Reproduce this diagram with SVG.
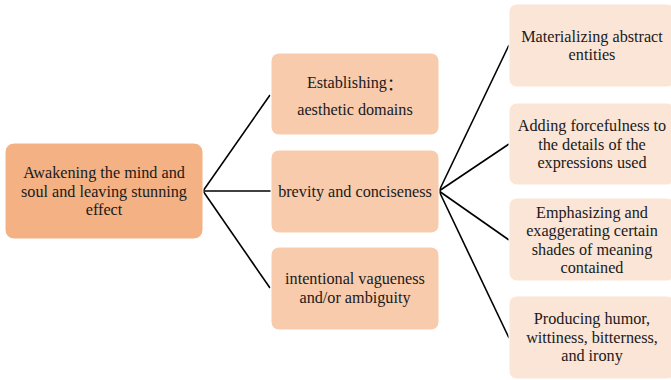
<svg xmlns="http://www.w3.org/2000/svg" width="671" height="380" viewBox="0 0 671 380">
<style>
.t{font-family:"Liberation Serif","Times New Roman",serif;font-size:16.2px;fill:#1a1a1a;text-anchor:middle;dominant-baseline:central}
.root{fill:#F4B183;stroke:#fff;stroke-width:1}
.mid{fill:#F8CBAD;stroke:#fff;stroke-width:1}
.leaf{fill:#FBE5D6;stroke:#fff;stroke-width:1}
.c{stroke:#000;stroke-width:1.6;fill:none}
</style>
<rect width="671" height="380" fill="#fff"/>
<g id="connectors">
<line class="c" x1="203" y1="191" x2="270" y2="95"/>
<line class="c" x1="203" y1="191" x2="271" y2="191"/>
<line class="c" x1="203" y1="191" x2="270" y2="288"/>
<line class="c" x1="439" y1="191" x2="509" y2="45"/>
<line class="c" x1="439" y1="191" x2="509" y2="144"/>
<line class="c" x1="439" y1="191" x2="509" y2="240"/>
<line class="c" x1="439" y1="191" x2="509" y2="338"/>
</g>
<g id="root">
<rect class="root" x="5" y="143" width="198" height="96" rx="9"/>
<text class="t" x="104" y="173">Awakening the mind and</text>
<text class="t" x="104" y="191.5">soul and leaving stunning</text>
<text class="t" x="104" y="210">effect</text>
</g>
<g id="mid1">
<rect class="mid" x="271" y="53" width="168" height="82" rx="8"/>
<text class="t" x="355" y="83">Establishing<tspan font-family="'Noto Sans CJK SC', sans-serif">：</tspan></text>
<text class="t" x="355" y="110">aesthetic domains</text>
</g>
<g id="mid2">
<rect class="mid" x="271" y="150" width="168" height="83" rx="8"/>
<text class="t" x="355" y="192">brevity and conciseness</text>
</g>
<g id="mid3">
<rect class="mid" x="271" y="247" width="168" height="83" rx="8"/>
<text class="t" x="355" y="279">intentional vagueness</text>
<text class="t" x="355" y="297.5">and/or ambiguity</text>
</g>
<g id="leaf1">
<rect class="leaf" x="509" y="4" width="166" height="83" rx="8"/>
<text class="t" x="592" y="36.5">Materializing abstract</text>
<text class="t" x="592" y="55">entities</text>
</g>
<g id="leaf2">
<rect class="leaf" x="509" y="103" width="166" height="82" rx="8"/>
<text class="t" x="592" y="126">Adding forcefulness to</text>
<text class="t" x="592" y="144.5">the details of the</text>
<text class="t" x="592" y="163">expressions used</text>
</g>
<g id="leaf3">
<rect class="leaf" x="509" y="198" width="166" height="83" rx="8"/>
<text class="t" x="592" y="212.5">Emphasizing and</text>
<text class="t" x="592" y="231">exaggerating certain</text>
<text class="t" x="592" y="249.5">shades of meaning</text>
<text class="t" x="592" y="268">contained</text>
</g>
<g id="leaf4">
<rect class="leaf" x="509" y="296" width="166" height="83" rx="8"/>
<text class="t" x="592" y="319">Producing humor,</text>
<text class="t" x="592" y="337.5">wittiness, bitterness,</text>
<text class="t" x="592" y="356">and irony</text>
</g>
</svg>
